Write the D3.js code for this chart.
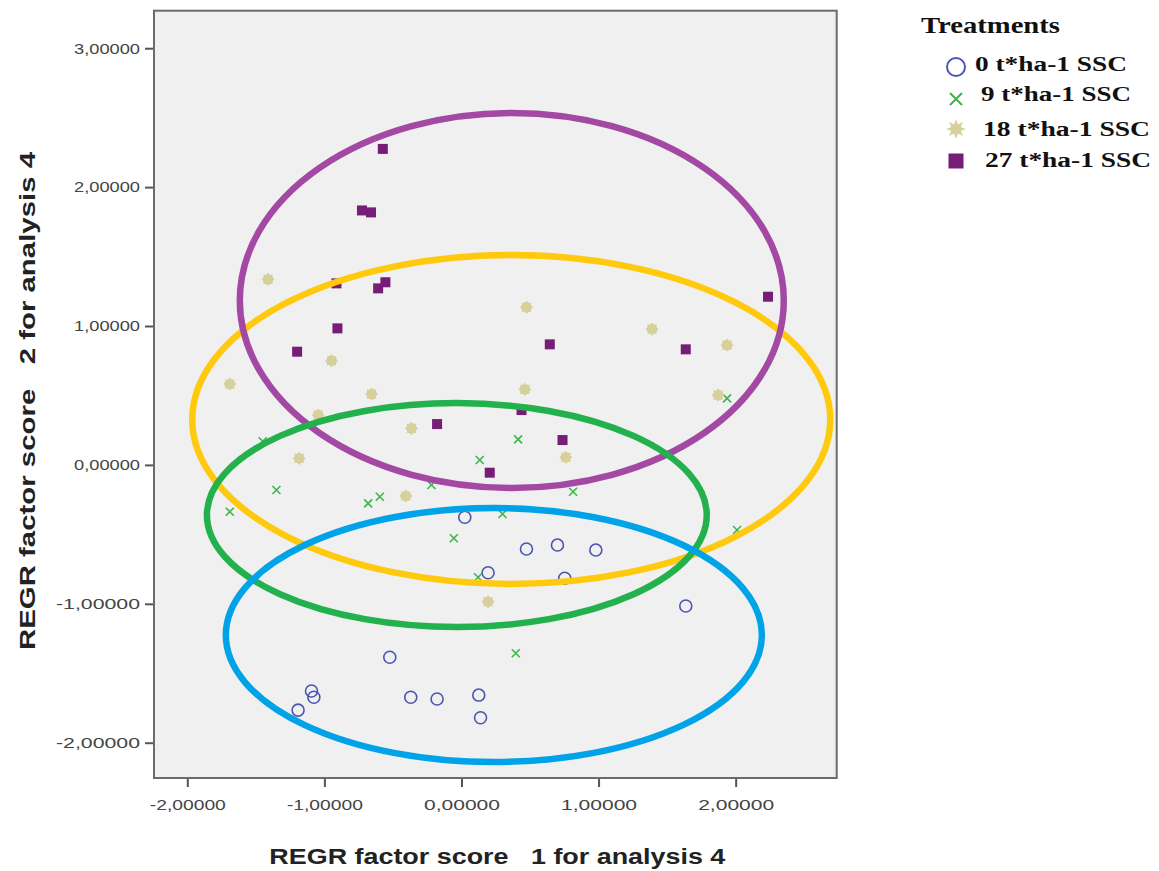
<!DOCTYPE html>
<html><head><meta charset="utf-8">
<script src="https://cdn.jsdelivr.net/npm/d3@7"></script>
<style>body{margin:0;background:#fff} text{white-space:pre}</style>
</head><body>
<svg id="c" width="1159" height="871"></svg>
<script>
const treatments = ["0 t*ha-1 SSC","9 t*ha-1 SSC","18 t*ha-1 SSC","27 t*ha-1 SSC"];
const xTicks = [-2,-1,0,1,2];
const yTicks = [-2,-1,0,1,2,3];
// factor score 1 (x) and factor score 2 (y) per treatment
const t0x = [0.024,0.194,-0.523,-1.094,-1.077,-1.192,-0.370,-0.178,0.126,0.139,0.474,0.700,0.980,0.753,1.636];
const t0y = [-0.377,-0.776,-1.385,-1.628,-1.673,-1.765,-1.673,-1.685,-1.657,-1.820,-0.605,-0.577,-0.613,-0.816,-1.016];
const t9x = [0.133,-1.350,-0.681,-0.596,-1.690,-0.219,1.937,0.413,0.814,-0.056,0.121,0.396,2.010,0.299,-1.450];
const t9y = [0.035,-0.181,-0.277,-0.229,-0.337,-0.145,0.479,0.184,-0.193,-0.528,-0.809,-1.356,-0.469,-0.353,0.170];
const t18x = [-1.411,-0.948,-1.690,-0.656,-1.046,-0.365,-1.184,-0.406,0.474,1.390,1.937,0.462,1.872,0.761,0.194];
const t18y = [1.336,0.750,0.582,0.510,0.359,0.263,0.047,-0.224,1.135,0.978,0.863,0.544,0.503,0.055,-0.985];
const t27x = [-0.574,-0.726,-0.660,-0.912,-0.608,-0.555,-0.905,-1.199,-0.178,0.206,2.236,0.644,1.636,0.737,0.438];
const t27y = [2.275,1.832,1.818,1.307,1.271,1.315,0.983,0.815,0.294,-0.056,1.211,0.868,0.832,0.179,0.395];
// group ellipses: centre x, centre y, radius x, radius y (data units)
const ellipseNames = ["27","18","9","0"];
const ellCx = [0.367,0.363,-0.034,0.236];
const ellCy = [1.184,0.327,-0.361,-1.225];
const ellRx = [1.984,2.327,1.823,1.955];
const ellRy = [1.350,1.184,0.806,0.914];

const svg = d3.select("#c");
const L=154, R=836.7, T=10.7, B=778;
const x = d3.scaleLinear().domain([-2.243,2.737]).range([L,R]);
const y = d3.scaleLinear().domain([-2.254,3.27]).range([B,T]);
const fmt = d => d3.format(".5f")(d).replace(".",",").replace("−","-");

svg.append("rect").attr("x",L).attr("y",T).attr("width",R-L).attr("height",B-T)
  .attr("fill","#f0f0f0").attr("stroke","#6b6b6b").attr("stroke-width",2);

const xa = svg.append("g").attr("transform",`translate(0,${B+1})`)
  .call(d3.axisBottom(x).tickValues(xTicks).tickFormat(fmt).tickSize(8).tickSizeOuter(0));
const ya = svg.append("g").attr("transform",`translate(${L-1},0)`)
  .call(d3.axisLeft(y).tickValues(yTicks).tickFormat(fmt).tickSize(8).tickSizeOuter(0));
[xa,ya].forEach(a=>{
  a.select(".domain").remove();
  a.selectAll(".tick line").attr("stroke","#555").attr("stroke-width",2);
  a.selectAll(".tick text").attr("font-family","Liberation Sans, Arial, sans-serif")
   .attr("font-size",15).attr("fill","#444");
});
xa.selectAll(".tick text").attr("dy","1.3em").attr("textLength",76).attr("lengthAdjust","spacingAndGlyphs");
ya.selectAll(".tick text").attr("x",-13).attr("textLength",(d)=> d<0?84:66).attr("lengthAdjust","spacingAndGlyphs");

// points
const g = svg.append("g");
g.selectAll(".p0").data(d3.range(t0x.length)).join("circle")
  .attr("cx",i=>x(t0x[i])).attr("cy",i=>y(t0y[i])).attr("r",6)
  .attr("fill","none").attr("stroke","#4b56b0").attr("stroke-width",1.6);
const xs = 4;
g.selectAll(".p9").data(d3.range(t9x.length)).join("path")
  .attr("d",i=>{const cx=x(t9x[i]),cy=y(t9y[i]);return `M${cx-xs},${cy-xs}L${cx+xs},${cy+xs}M${cx-xs},${cy+xs}L${cx+xs},${cy-xs}`;})
  .attr("stroke","#3cb54a").attr("stroke-width",1.6).attr("fill","none");
function starPath(cx,cy,ro,ri,n){
  let p=[];for(let k=0;k<2*n;k++){const a=Math.PI*k/n - Math.PI/2;const r=k%2?ri:ro;p.push([cx+r*Math.cos(a),cy+r*Math.sin(a)]);}
  return "M"+p.map(q=>q.join(",")).join("L")+"Z";
}
g.selectAll(".p18").data(d3.range(t18x.length)).join("path")
  .attr("d",i=>starPath(x(t18x[i]),y(t18y[i]),6.5,5,8))
  .attr("fill","#d6d09a");
g.selectAll(".p27").data(d3.range(t27x.length)).join("rect")
  .attr("x",i=>x(t27x[i])-5).attr("y",i=>y(t27y[i])-5).attr("width",10).attr("height",10)
  .attr("fill","#761d77");

// ellipses
const ellColors = {"27":"#a349a4","18":"#ffc90e","9":"#22b14c","0":"#00a2e8"};
const order = [1,0,2,3];
svg.append("g").selectAll("ellipse").data(order).join("ellipse")
  .attr("cx",i=>x(ellCx[i])).attr("cy",i=>y(ellCy[i]))
  .attr("rx",i=>x(ellRx[i])-x(0)).attr("ry",i=>y(0)-y(ellRy[i]))
  .attr("fill","none").attr("stroke",i=>ellColors[ellipseNames[i]]).attr("stroke-width",6.5);

// axis titles
svg.append("text").attr("x",(L+R)/2+2).attr("y",864).attr("text-anchor","middle")
  .attr("font-family","Liberation Sans, Arial, sans-serif").attr("font-weight","bold").attr("font-size",22)
  .attr("fill","#222").attr("textLength",456).attr("lengthAdjust","spacingAndGlyphs")
  .text("REGR factor score   1 for analysis 4");
svg.append("text").attr("transform","translate(35,401) rotate(-90)").attr("text-anchor","middle")
  .attr("font-family","Liberation Sans, Arial, sans-serif").attr("font-weight","bold").attr("font-size",22)
  .attr("fill","#222").attr("textLength",498).attr("lengthAdjust","spacingAndGlyphs")
  .text("REGR factor score   2 for analysis 4");

// legend
const lg = svg.append("g").attr("font-family","Liberation Serif, Times New Roman, serif").attr("font-weight","bold").attr("fill","#111");
lg.append("text").attr("x",921).attr("y",33).attr("font-size",23).attr("textLength",139).attr("lengthAdjust","spacingAndGlyphs").text("Treatments");
const lx=[975,981,983,985], ly=[71,101,136,167], lw=[152,150,167,166], my=[67,99,129,161];
lg.selectAll(".lt").data(treatments).join("text").attr("x",(d,i)=>lx[i]).attr("y",(d,i)=>ly[i])
  .attr("font-size",20).attr("textLength",(d,i)=>lw[i]).attr("lengthAdjust","spacingAndGlyphs").text(d=>d);
const mx=956;
svg.append("circle").attr("cx",mx).attr("cy",my[0]).attr("r",9).attr("fill","none").attr("stroke","#4b56b0").attr("stroke-width",2);
svg.append("path").attr("d",`M${mx-6},${my[1]-6}L${mx+6},${my[1]+6}M${mx-6},${my[1]+6}L${mx+6},${my[1]-6}`).attr("stroke","#3cb54a").attr("stroke-width",2);
svg.append("path").attr("d",starPath(mx,my[2],10,5,8)).attr("fill","#d6d09a");
svg.append("rect").attr("x",mx-7.5).attr("y",my[3]-7.5).attr("width",15).attr("height",15).attr("fill","#761d77");
</script>
</body></html>
